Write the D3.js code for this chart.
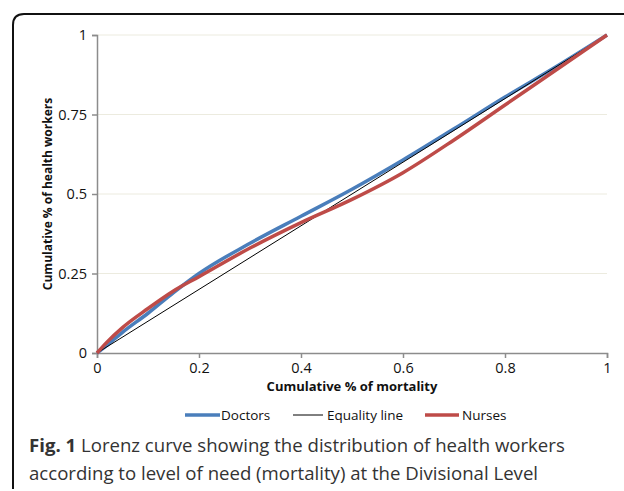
<!DOCTYPE html>
<html>
<head>
<meta charset="utf-8">
<script src="https://d3js.org/d3.v7.min.js"></script>
<style>
  body { margin: 0; background: #fff; }
  svg { display: block; font-family: "Open Sans", "Noto Sans", sans-serif; }
</style>
</head>
<body>
<svg id="chart" width="624" height="491"></svg>
<script>
// Data
const mortality = [0, 0.02, 0.05, 0.1, 0.15, 0.2, 0.3, 0.4, 0.5, 0.6, 0.7, 0.8, 0.9, 1];
const doctors   = [0, 0.025, 0.065, 0.125, 0.19, 0.25, 0.345, 0.43, 0.515, 0.607, 0.705, 0.805, 0.90, 1];
const nurses    = [0, 0.035, 0.08, 0.14, 0.195, 0.24, 0.33, 0.41, 0.483, 0.567, 0.67, 0.78, 0.89, 1];
const equalityX = [0, 1];
const equalityY = [0, 1];
const xTicks = [0, 0.2, 0.4, 0.6, 0.8, 1];
const yTicks = [0, 0.25, 0.5, 0.75, 1];
const yTickLabels = ["0", "0.25", "0.5", "0.75", "1"];

const series = [
  { name: "Doctors", xs: mortality, ys: doctors, color: "#4a7ebb", width: 3.5 },
  { name: "Equality line", xs: equalityX, ys: equalityY, color: "#000000", width: 1 },
  { name: "Nurses", xs: mortality, ys: nurses, color: "#be4b48", width: 3.5 }
];

const svg = d3.select("#chart");

// frame with rounded top-left corner (right and bottom run off the picture)
svg.append("path")
  .attr("d", "M13,489 L13,25 Q13,14 24,14 L630,14")
  .attr("fill", "none")
  .attr("stroke", "#111")
  .attr("stroke-width", 2);

const x = d3.scaleLinear().domain([0, 1]).range([97, 607]);
const y = d3.scaleLinear().domain([0, 1]).range([353, 35]);

// gridlines
svg.append("g")
  .selectAll("line")
  .data(yTicks.filter(d => d > 0))
  .enter().append("line")
  .attr("x1", x(0)).attr("x2", x(1))
  .attr("y1", d => y(d)).attr("y2", d => y(d))
  .attr("stroke", "#ecebdf").attr("stroke-width", 1);

// axes
const xAxis = svg.append("g")
  .attr("transform", `translate(0,${y(0)})`)
  .call(d3.axisBottom(x).tickValues(xTicks).tickFormat(d3.format("")).tickSize(5).tickPadding(5));
const yAxis = svg.append("g")
  .attr("transform", `translate(${x(0)},0)`)
  .call(d3.axisLeft(y).tickValues(yTicks).tickFormat((d, i) => yTickLabels[i]).tickSize(5).tickPadding(5));

[xAxis, yAxis].forEach(a => {
  a.attr("font-size", null).attr("font-family", null);
  a.select(".domain").attr("stroke", "#8c8c8c").attr("stroke-width", 1.5);
  a.selectAll(".tick line").attr("stroke", "#8c8c8c").attr("stroke-width", 1.5);
  a.selectAll(".tick text").attr("fill", "#111").attr("font-size", 14.5);
});

// lines
const line = d3.line()
  .x(d => x(d[0]))
  .y(d => y(d[1]))
  .curve(d3.curveMonotoneX);

series.forEach(s => {
  svg.append("path")
    .datum(s.xs.map((v, i) => [v, s.ys[i]]))
    .attr("d", line)
    .attr("fill", "none")
    .attr("stroke", s.color)
    .attr("stroke-width", s.width)
    .attr("stroke-linejoin", "round");
});

// axis titles
svg.append("text")
  .attr("x", (x(0) + x(1)) / 2)
  .attr("y", 391)
  .attr("text-anchor", "middle")
  .style("font-size", "13px")
  .style("font-weight", "bold")
  .attr("fill", "#111")
  .text("Cumulative % of mortality");

svg.append("text")
  .attr("transform", `translate(52,${(y(0) + y(1)) / 2}) rotate(-90)`)
  .attr("text-anchor", "middle")
  .style("font-size", "12px")
  .style("font-weight", "bold")
  .attr("fill", "#111")
  .text("Cumulative % of health workers");

// legend
const legendPos = [
  { x1: 185, x2: 220, tx: 221 },
  { x1: 293, x2: 323, tx: 327 },
  { x1: 425, x2: 459, tx: 462 }
];
series.forEach((s, i) => {
  const p = legendPos[i];
  svg.append("line")
    .attr("x1", p.x1).attr("x2", p.x2)
    .attr("y1", 415).attr("y2", 415)
    .attr("stroke", s.color)
    .attr("stroke-width", s.width);
  svg.append("text")
    .attr("x", p.tx).attr("y", 420)
    .style("font-size", "13.5px")
    .attr("fill", "#111")
    .text(s.name);
});

// caption
const cap = svg.append("text").attr("x", 29).attr("y", 452)
  .style("font-size", "18.6px").attr("fill", "#333");
cap.append("tspan").style("font-weight", "bold").text("Fig. 1");
cap.append("tspan").text(" Lorenz curve showing the distribution of health workers");
svg.append("text").attr("x", 29).attr("y", 480)
  .style("font-size", "18.6px").attr("fill", "#333")
  .text("according to level of need (mortality) at the Divisional Level");
</script>
</body>
</html>
